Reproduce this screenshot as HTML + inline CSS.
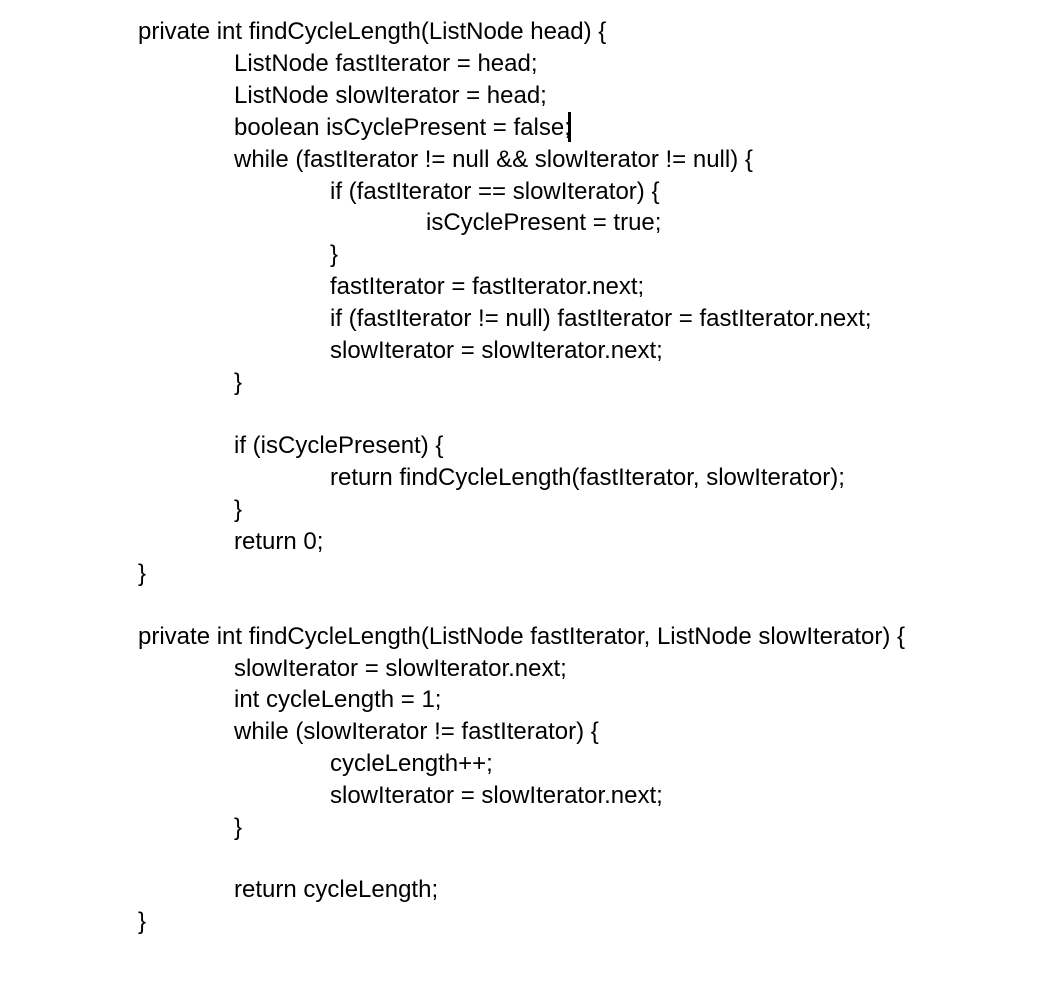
<!DOCTYPE html>
<html><head><meta charset="utf-8"><style>
html,body{margin:0;padding:0;background:#fff;}
body{width:1062px;height:996px;position:relative;overflow:hidden;font-family:"Liberation Sans",Arial,sans-serif;font-size:24px;color:#000;}
.l{position:absolute;white-space:pre;line-height:32px;height:32px;}
.c{position:absolute;left:568px;top:112px;width:3px;height:30px;background:#000;}
</style></head><body>
<div class="l" style="left:138px;top:16px">private int findCycleLength(ListNode head) {</div>
<div class="l" style="left:234px;top:48px">ListNode fastIterator = head;</div>
<div class="l" style="left:234px;top:80px">ListNode slowIterator = head;</div>
<div class="l" style="left:234px;top:112px">boolean isCyclePresent = false;</div>
<div class="c"></div>
<div class="l" style="left:234px;top:144px">while (fastIterator != null &amp;&amp; slowIterator != null) {</div>
<div class="l" style="left:330px;top:176px">if (fastIterator == slowIterator) {</div>
<div class="l" style="left:426px;top:207px">isCyclePresent = true;</div>
<div class="l" style="left:330px;top:239px">}</div>
<div class="l" style="left:330px;top:271px">fastIterator = fastIterator.next;</div>
<div class="l" style="left:330px;top:303px">if (fastIterator != null) fastIterator = fastIterator.next;</div>
<div class="l" style="left:330px;top:335px">slowIterator = slowIterator.next;</div>
<div class="l" style="left:234px;top:367px">}</div>
<div class="l" style="left:234px;top:430px">if (isCyclePresent) {</div>
<div class="l" style="left:330px;top:462px">return findCycleLength(fastIterator, slowIterator);</div>
<div class="l" style="left:234px;top:494px">}</div>
<div class="l" style="left:234px;top:526px">return 0;</div>
<div class="l" style="left:138px;top:558px">}</div>
<div class="l" style="left:138px;top:621px">private int findCycleLength(ListNode fastIterator, ListNode slowIterator) {</div>
<div class="l" style="left:234px;top:653px">slowIterator = slowIterator.next;</div>
<div class="l" style="left:234px;top:684px">int cycleLength = 1;</div>
<div class="l" style="left:234px;top:716px">while (slowIterator != fastIterator) {</div>
<div class="l" style="left:330px;top:748px">cycleLength++;</div>
<div class="l" style="left:330px;top:780px">slowIterator = slowIterator.next;</div>
<div class="l" style="left:234px;top:812px">}</div>
<div class="l" style="left:234px;top:874px">return cycleLength;</div>
<div class="l" style="left:138px;top:906px">}</div>
</body></html>
